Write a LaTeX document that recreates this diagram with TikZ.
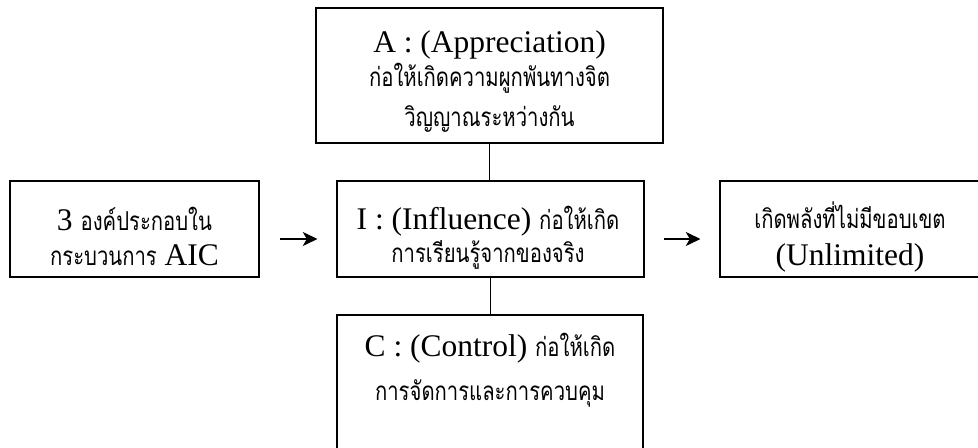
\documentclass[tikz,border=0pt]{standalone}
\usepackage{fontspec}
\setmainfont{Liberation Serif}
\newfontfamily\thaifont[Script=Thai,FakeStretch=0.78]{Loma}
\usetikzlibrary{arrows.meta}
\newcommand{\lat}{\fontsize{23.6}{28}\selectfont}
\newcommand{\thi}[1]{{\thaifont\fontsize{19.5}{22}\selectfont #1}}

\begin{document}
\begin{tikzpicture}[x=0.75pt,y=-0.75pt,
  box/.style={draw, line width=1.3pt, inner sep=0pt},
  txt/.style={inner sep=0pt, anchor=base},
  link/.style={line width=1.1pt},
  arr/.style={line width=1.3pt, -{Stealth[length=11pt,width=10.5pt,inset=3pt]}}]

\useasboundingbox (0,0) rectangle (978,448);

% boxes
\node[box, minimum width=260.25pt, minimum height=101.25pt] (A) at (489.5,75.5) {};
\node[box, minimum width=186.75pt, minimum height=72pt] (L) at (134.5,229) {};
\node[box, minimum width=230.25pt, minimum height=72pt] (I) at (490.5,229) {};
\node[box, minimum width=195pt, minimum height=72pt] (R) at (850,229) {};
\node[box, minimum width=229.5pt, minimum height=120pt] (C) at (490,395) {};

% texts
\node[txt] (Al1) at (489.5,53) {\lat A : (Appreciation)};
\node[txt] (Al2) at (489.5,87) {\thi{ก่อให้เกิดความผูกพันทางจิต}};
\node[txt] (Al3) at (489.5,127) {\thi{วิญญาณระหว่างกัน}};

\node[txt] (Ll1) at (134.5,231) {\lat 3 \thi{องค์ประกอบใน}};
\node[txt] (Ll2) at (134.5,266) {\thi{กระบวนการ}\lat{} AIC};

\node[txt] (Il1) at (488,230) {\lat I : (Influence) \thi{ก่อให้เกิด}};
\node[txt] (Il2) at (488,263) {\thi{การเรียนรู้จากของจริง}};

\node[txt] (Rl1) at (850,229) {\thi{เกิดพลังที่ไม่มีขอบเขต}};
\node[txt] (Rl2) at (850,266) {\lat (Unlimited)};

\node[txt] (Cl1) at (490,357) {\lat C : (Control) \thi{ก่อให้เกิด}};
\node[txt] (Cl2) at (490,401) {\thi{การจัดการและการควบคุม}};

% connectors
\draw[link] (A.south) -- (A.south |- I.north);
\draw[link] (I.south) -- (I.south |- C.north);
\draw[arr, shorten <=15pt, shorten >=14pt] ([yshift=-7.5pt]L.east) -- ([yshift=-7.5pt]I.west);
\draw[arr, shorten <=14pt, shorten >=14pt] ([yshift=-7.5pt]I.east) -- ([yshift=-7.5pt]R.west);

\end{tikzpicture}
\end{document}
